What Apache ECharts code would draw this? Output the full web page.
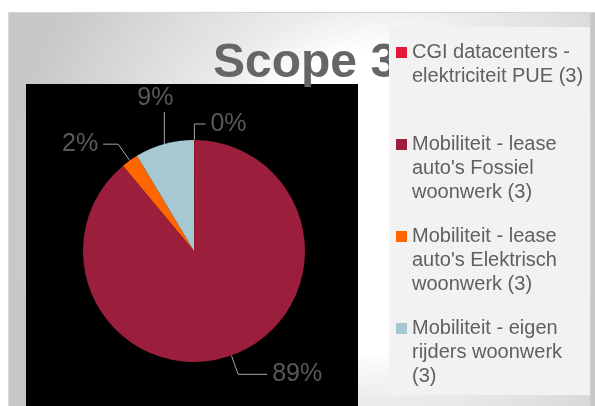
<!DOCTYPE html>
<html>
<head>
<meta charset="utf-8">
<script src="https://cdn.jsdelivr.net/npm/echarts@6/dist/echarts.min.js"></script>
<style>
  html, body { margin: 0; padding: 0; width: 595px; height: 406px; overflow: hidden; background: #ffffff; }
  #frame {
    position: absolute; left: 8px; top: 12px; width: 587px; height: 394px;
    background:
      linear-gradient(to left, #c6c6c6 0px, #c9c9c9 4px, rgba(200,200,200,0) 6px),
      radial-gradient(circle at 372px 188px, #ffffff 0px, #ffffff 150px, #ebebeb 200px, #c8c8c8 370px);
    border-top: 1px solid #d4d4d4; border-left: 1px solid #d9d9d9; box-sizing: border-box;
  }
  #plot { position: absolute; left: 26px; top: 84px; width: 332px; height: 322px; background: #000000; }
  #chart { position: absolute; left: 0; top: 0; width: 595px; height: 406px; }
</style>
</head>
<body>
<div id="frame"></div>
<div id="plot"></div>
<div id="chart"></div>
<script>
// ---- data ----
const titleText = 'Scope 3';
const categories = [
  'CGI datacenters - elektriciteit PUE (3)',
  "Mobiliteit - lease auto's Fossiel woonwerk (3)",
  "Mobiliteit - lease auto's Elektrisch woonwerk (3)",
  'Mobiliteit - eigen rijders woonwerk (3)'
];
const values = [0.1, 88.85, 2.45, 8.6];

// ---- styling / layout ----
const sliceColors = ['#e31937', '#9b1f3d', '#ff6600', '#a5c8d3'];
const labelLineLens = [[16, 11], [20, 29], [20, 15], [20, 0]];
const FONT = "'Liberation Sans', Arial, sans-serif";

const chart = echarts.init(document.getElementById('chart'), null, { renderer: 'canvas' });

const pieData = categories.map((name, i) => ({
  name: name,
  value: values[i],
  labelLine: { length: labelLineLens[i][0], length2: labelLineLens[i][1] }
}));

chart.setOption({
  backgroundColor: 'transparent',
  animation: false,
  color: sliceColors,
  title: {
    text: titleText,
    left: 213,
    top: 40,
    padding: 0,
    z: 1,
    textStyle: { fontFamily: FONT, fontSize: 48, fontWeight: 'bold', color: '#666666' }
  },
  legend: {
    orient: 'vertical',
    left: 389,
    top: 27,
    padding: [13.5, 2, 6.5, 7],
    itemGap: 20,
    itemWidth: 11,
    itemHeight: 72,
    icon: 'path://M0,0L0.01,0M0,6.5L11,6.5L11,17.5L0,17.5ZM0,72L0.01,72',
    backgroundColor: '#f2f2f2',
    selectedMode: false,
    z: 10,
    itemStyle: { borderWidth: 0 },
    // the first entry wraps onto two lines only; pad it so every entry fills three line slots
    formatter: function (name) { return name === categories[0] ? name + '\n ' : name; },
    textStyle: {
      fontFamily: FONT, fontSize: 20, lineHeight: 24, color: '#606060',
      width: 176, height: 72, overflow: 'break'
    },
    data: categories
  },
  series: [{
    type: 'pie',
    center: [194, 251],
    radius: 111,
    startAngle: 90,
    clockwise: true,
    percentPrecision: 0,
    avoidLabelOverlap: false,
    silent: true,
    itemStyle: { borderWidth: 0 },
    label: {
      show: true,
      position: 'outside',
      formatter: '{d}%',
      fontFamily: FONT,
      fontSize: 25,
      color: '#595959'
    },
    labelLine: {
      show: true,
      smooth: false,
      lineStyle: { color: '#a6a6a6', width: 1 }
    },
    labelLayout: function (p) {
      if (p.dataIndex === 3 && p.labelLinePoints) {
        const pt = p.labelLinePoints[0];
        return {
          x: pt[0] - 9,
          y: pt[1] - 46,
          align: 'center',
          verticalAlign: 'middle',
          labelLinePoints: [[pt[0], pt[1]], [pt[0], pt[1] - 32]]
        };
      }
      return {};
    },
    data: pieData
  }]
});
</script>
</body>
</html>
